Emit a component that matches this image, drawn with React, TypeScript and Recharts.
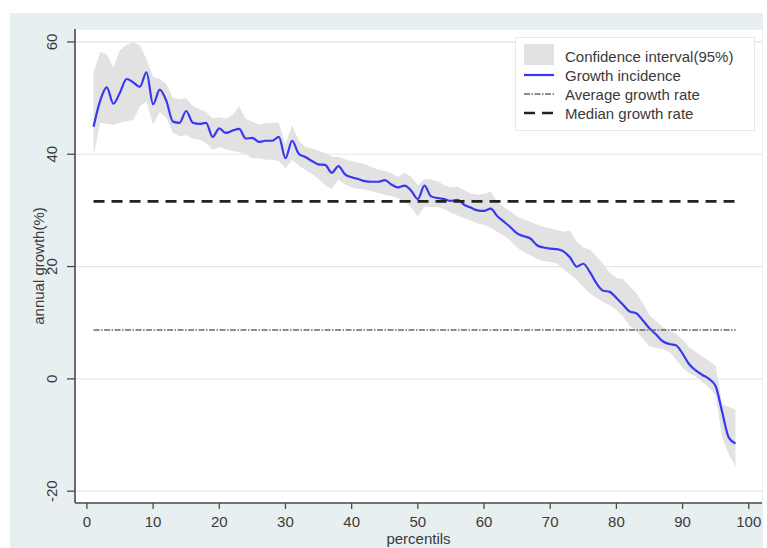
import React from 'react';
import { ComposedChart, Area, Line, XAxis, YAxis, CartesianGrid, Legend, Label } from 'recharts';

const FONT = '"Liberation Sans", Arial, Helvetica, sans-serif';

const percentiles = [
  1, 2, 3, 4, 5, 6, 7, 8, 9, 10, 11, 12, 13, 14, 15, 16, 17, 18, 19, 20,
  21, 22, 23, 24, 25, 26, 27, 28, 29, 30, 31, 32, 33, 34, 35, 36, 37, 38, 39, 40,
  41, 42, 43, 44, 45, 46, 47, 48, 49, 50, 51, 52, 53, 54, 55, 56, 57, 58, 59, 60,
  61, 62, 63, 64, 65, 66, 67, 68, 69, 70, 71, 72, 73, 74, 75, 76, 77, 78, 79, 80,
  81, 82, 83, 84, 85, 86, 87, 88, 89, 90, 91, 92, 93, 94, 95, 96, 97, 98,
];

const growthIncidence = [
  44.9, 49.5, 51.9, 49.0, 51.0, 53.4, 52.8, 52.0, 54.6, 48.9,
  51.5, 49.5, 45.8, 45.6, 47.7, 45.6, 45.4, 45.6, 43.1, 44.6,
  43.8, 44.2, 44.5, 42.8, 42.9, 42.2, 42.4, 42.4, 43.1, 39.3,
  42.4, 40.1, 39.5, 38.8, 38.2, 38.1, 36.7, 37.9, 36.4, 35.9,
  35.6, 35.2, 35.1, 35.1, 35.4, 34.6, 34.1, 34.4, 33.5, 32.0,
  34.4, 32.5, 32.2, 32.0, 31.7, 31.9, 31.0, 30.5, 30.0, 29.9,
  30.3, 29.0, 28.0, 27.0, 25.9, 25.4, 25.0, 23.8, 23.4, 23.2,
  23.1, 22.7, 21.6, 20.0, 20.5, 19.0, 17.0, 15.7, 15.5, 14.4,
  13.2, 12.0, 11.7, 10.4, 9.0, 7.9, 6.7, 6.2, 6.0, 4.5,
  2.6, 1.5, 0.7, 0.0, -1.3, -6.0, -10.5, -11.5,
];

const ciUpper = [
  54.5, 58.2, 57.8, 55.4, 58.5, 59.5, 60.0, 59.3, 57.0, 53.8,
  53.4, 52.5, 50.0, 49.8, 50.0, 48.6, 48.0, 47.5, 46.4, 46.6,
  46.3, 47.0, 48.5, 46.3, 45.8, 45.3, 45.5, 45.6, 45.6, 41.8,
  45.2, 42.5, 41.3, 41.0, 40.6, 40.2, 39.6, 39.5, 39.1, 38.8,
  38.5, 38.2, 37.7, 37.3, 37.0, 36.6, 36.0, 36.7, 36.0, 34.5,
  35.6, 35.5, 35.2, 34.5, 34.1, 34.2, 33.6, 33.0, 32.8, 32.9,
  33.4, 31.5, 30.6, 29.8, 28.9, 28.4, 28.0, 27.5, 27.1, 26.8,
  26.5, 26.2, 26.4, 24.4, 23.4, 23.0, 21.8, 20.5, 18.9, 18.0,
  17.8, 16.5, 15.3, 13.5, 11.3, 10.3, 9.2, 8.6, 8.0, 7.0,
  5.6, 4.8, 4.0, 3.2, 2.3, -4.5, -5.0, -5.5,
];

const ciLower = [
  39.6, 45.6, 45.4, 45.2, 45.6, 45.9, 46.1, 48.5, 49.5, 45.2,
  47.5, 46.5, 43.8, 43.2, 43.4, 42.8, 42.6, 42.0, 40.8, 41.3,
  40.9, 40.6, 40.3, 40.0, 39.3, 39.3, 39.0, 39.0, 38.8, 37.5,
  39.0, 38.0, 37.2, 36.5, 35.6, 34.5, 33.8, 35.5, 34.6, 34.1,
  33.8, 33.7, 33.4, 33.1, 32.8, 32.5, 32.2, 31.6, 30.5, 28.9,
  30.7, 30.6, 30.6, 30.2, 29.6, 29.1, 28.6, 28.2, 27.7, 27.4,
  26.9, 26.2, 25.5, 24.6, 23.4, 22.6, 22.0, 21.4, 21.0, 20.8,
  20.6, 19.5, 18.6, 17.6, 16.3, 15.2, 14.4, 13.7, 13.1, 12.2,
  11.1, 9.4, 8.5, 7.2, 5.8, 5.5, 5.3, 4.8, 3.5, 2.0,
  1.0, 0.4, -0.6, -1.6, -2.9, -10.5, -13.5, -15.6,
];

const averageGrowthRate = 8.7;
const medianGrowthRate = 31.6;

const xTicks = [0, 10, 20, 30, 40, 50, 60, 70, 80, 90, 100];
const yTicks = [-20, 0, 20, 40, 60];

const legendLabels = [
  'Confidence interval(95%)',
  'Growth incidence',
  'Average growth rate',
  'Median growth rate',
];

const data = percentiles.map((p, i) => ({
  p,
  g: growthIncidence[i],
  band: [ciLower[i], ciUpper[i]],
  avg: averageGrowthRate,
  med: medianGrowthRate,
}));

const BLUE = '#3838f2';
const TXT = '#3a3a3a';

const XTick = (props: any) => {
  const { x, payload } = props;
  return (
    <text x={x} y={521} textAnchor="middle" dominantBaseline="central" fontFamily={FONT} fontSize={15} fill={TXT}>
      {payload.value}
    </text>
  );
};

const YTick = (props: any) => {
  const { y, payload } = props;
  const x = 52;
  return (
    <text
      x={x}
      y={y}
      transform={`rotate(-90 ${x} ${y})`}
      textAnchor="middle"
      dominantBaseline="central"
      fontFamily={FONT}
      fontSize={15}
      fill={TXT}
    >
      {payload.value}
    </text>
  );
};

const LegendBox = () => (
  <div
    style={{
      width: 240,
      height: 94,
      background: '#fff',
      border: '1px solid #e3ebed',
      boxSizing: 'border-box',
      position: 'relative',
    }}
  >
    <svg width={240} height={94} style={{ position: 'absolute', left: -1, top: -1 }}>
      <rect x={9} y={7} width={30} height={21} fill="#e2e2e2" />
      <line x1={9} x2={39} y1={38} y2={38} stroke={BLUE} strokeWidth={2.2} />
      <line x1={9} x2={39} y1={57} y2={57} stroke="#6a6a6a" strokeWidth={1.3} strokeDasharray="6 1.5 1.5 1.5" />
      <line x1={9} x2={39} y1={76} y2={76} stroke="#222" strokeWidth={2.4} strokeDasharray="11 7" />
      {legendLabels.map((t, i) => (
        <text
          key={t}
          x={50}
          y={19.7 + i * 19}
          dominantBaseline="central"
          fontFamily={FONT}
          fontSize={15}
          fill={TXT}
        >
          {t}
        </text>
      ))}
    </svg>
  </div>
);

export default function App() {
  return (
    <div style={{ position: 'absolute', left: 0, top: 0, width: 767, height: 548, background: '#fff', overflow: 'hidden' }}>
      <div style={{ position: 'absolute', left: 10, top: 13, width: 753, height: 535, background: '#e8eff1' }} />
      <div style={{ position: 'absolute', left: 0, top: 0 }}>
        <ComposedChart width={767} height={548} data={data} margin={{ top: 29, right: 5, bottom: 0, left: 10 }}>
          <CartesianGrid vertical={false} fill="#ffffff" stroke="#dde9ec" strokeWidth={1.2} />
          <XAxis
            type="number"
            dataKey="p"
            domain={[-1.8, 102]}
            ticks={xTicks}
            interval={0}
            allowDataOverflow
            height={45}
            tickSize={6}
            axisLine={{ stroke: '#4a4a4a', strokeWidth: 1.6 }}
            tickLine={{ stroke: '#4a4a4a', strokeWidth: 1.3 }}
            tick={<XTick />}
          >
            <Label
              content={(p: any) => {
                const vb = p.viewBox;
                return (
                  <text
                    x={vb.x + vb.width / 2}
                    y={538}
                    textAnchor="middle"
                    dominantBaseline="central"
                    fontFamily={FONT}
                    fontSize={15}
                    fill={TXT}
                  >
                    percentils
                  </text>
                );
              }}
            />
          </XAxis>
          <YAxis
            type="number"
            domain={[-22.1, 62.3]}
            ticks={yTicks}
            interval={0}
            allowDataOverflow
            width={65}
            tickSize={8}
            axisLine={{ stroke: '#4a4a4a', strokeWidth: 1.6 }}
            tickLine={{ stroke: '#4a4a4a', strokeWidth: 1.3 }}
            tick={<YTick />}
          >
            <Label
              content={(p: any) => {
                const vb = p.viewBox;
                const cx = 38;
                const cy = vb.y + vb.height / 2;
                return (
                  <text
                    x={cx}
                    y={cy}
                    transform={`rotate(-90 ${cx} ${cy})`}
                    textAnchor="middle"
                    dominantBaseline="central"
                    fontFamily={FONT}
                    fontSize={15}
                    fill={TXT}
                  >
                    annual growth(%)
                  </text>
                );
              }}
            />
          </YAxis>
          <Area
            type="linear"
            dataKey="band"
            fill="#e2e2e2"
            fillOpacity={1}
            stroke="none"
            isAnimationActive={false}
            activeDot={false}
          />
          <Line
            type="monotone"
            dataKey="g"
            stroke={BLUE}
            strokeWidth={2.2}
            dot={false}
            activeDot={false}
            isAnimationActive={false}
          />
          <Line
            type="linear"
            dataKey="avg"
            stroke="#6a6a6a"
            strokeWidth={1.3}
            strokeDasharray="6 1.5 1.5 1.5"
            dot={false}
            activeDot={false}
            isAnimationActive={false}
          />
          <Line
            type="linear"
            dataKey="med"
            stroke="#222"
            strokeWidth={2.6}
            strokeDasharray="11 7"
            dot={false}
            activeDot={false}
            isAnimationActive={false}
          />
          <Legend
            layout="horizontal"
            verticalAlign="middle"
            align="center"
            content={() => <LegendBox />}
            wrapperStyle={{ left: 515, top: 37, width: 240, height: 94 }}
          />
        </ComposedChart>
      </div>
    </div>
  );
}
